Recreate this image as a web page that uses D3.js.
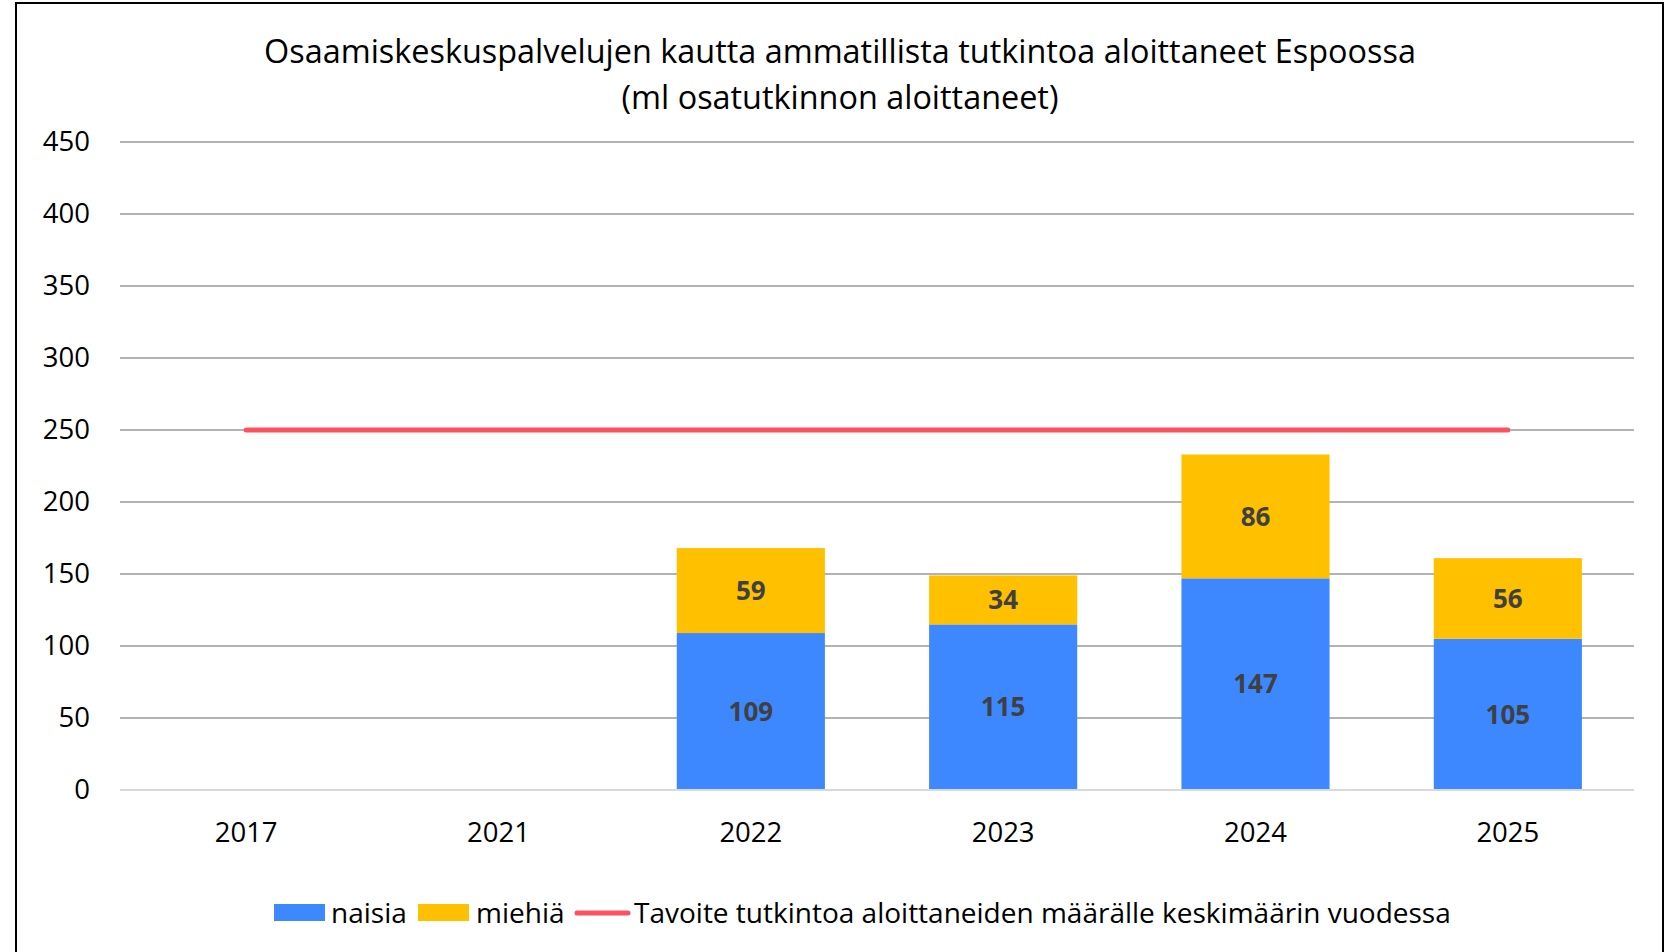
<!DOCTYPE html>
<html>
<head>
<meta charset="utf-8">
<script src="https://cdn.jsdelivr.net/npm/d3@7"></script>
<style>
  body { margin: 0; background: #fff; }
  svg text { font-family: "Open Sans", Lato, sans-serif; }
</style>
</head>
<body>
<div id="chart"></div>
<script>
var years = ['2017', '2021', '2022', '2023', '2024', '2025'];
var naisia = [null, null, 109, 115, 147, 105];
var miehia = [null, null, 59, 34, 86, 56];
var tavoite = [250, 250, 250, 250, 250, 250];
var yTicks = [0, 50, 100, 150, 200, 250, 300, 350, 400, 450];

var width = 1668, height = 952;
var margin = { top: 142, right: 34, bottom: 162, left: 120 };

var svg = d3.select('#chart')
    .append('svg')
    .attr('width', width)
    .attr('height', height);

// outer frame
svg.append('rect')
    .attr('x', 16).attr('y', 3)
    .attr('width', 1647).attr('height', 960)
    .attr('fill', 'none')
    .attr('stroke', '#000')
    .attr('stroke-width', 2);

var x = d3.scaleBand()
    .domain(years)
    .range([margin.left, width - margin.right])
    .paddingInner(0.413)
    .paddingOuter(0.2065);

var y = d3.scaleLinear()
    .domain([0, 450])
    .range([height - margin.bottom, margin.top]);

// gridlines
svg.append('g')
    .selectAll('line')
    .data(yTicks.filter(function(d) { return d > 0; }))
    .enter()
    .append('line')
    .attr('x1', margin.left)
    .attr('x2', width - margin.right)
    .attr('y1', function(d) { return y(d); })
    .attr('y2', function(d) { return y(d); })
    .attr('stroke', '#b3b3b3')
    .attr('stroke-width', 2);

// y axis labels
var yAxis = svg.append('g')
    .attr('transform', 'translate(' + (margin.left - 30) + ',0)')
    .call(d3.axisLeft(y).tickValues(yTicks).tickSize(0).tickPadding(0));
yAxis.select('.domain').remove();
yAxis.selectAll('text')
    .attr('font-family', '"Open Sans", sans-serif')
    .attr('font-size', 27.5)
    .attr('fill', '#000');

// stacked bars
var rows = years.map(function(yr, i) {
    return { year: yr, naisia: naisia[i] || 0, miehia: miehia[i] || 0 };
});
var stack = d3.stack().keys(['naisia', 'miehia'])(rows);
var colors = { naisia: '#3d88ff', miehia: '#ffc000' };

var layers = svg.selectAll('.layer')
    .data(stack)
    .enter()
    .append('g')
    .attr('class', 'layer')
    .attr('fill', function(d) { return colors[d.key]; });

layers.selectAll('rect')
    .data(function(d) { return d.filter(function(s) { return s[1] > s[0]; }); })
    .enter()
    .append('rect')
    .attr('x', function(d) { return x(d.data.year); })
    .attr('width', x.bandwidth())
    .attr('y', function(d) { return y(d[1]); })
    .attr('height', function(d) { return y(d[0]) - y(d[1]); });

layers.selectAll('text')
    .data(function(d) { return d.filter(function(s) { return s[1] > s[0]; }); })
    .enter()
    .append('text')
    .attr('x', function(d) { return x(d.data.year) + x.bandwidth() / 2; })
    .attr('y', function(d) { return (y(d[0]) + y(d[1])) / 2; })
    .attr('dy', '0.35em')
    .attr('text-anchor', 'middle')
    .attr('font-size', 26)
    .attr('font-weight', 'bold')
    .attr('fill', '#404040')
    .text(function(d) { return d[1] - d[0]; });

// zero line
svg.append('line')
    .attr('x1', margin.left)
    .attr('x2', width - margin.right)
    .attr('y1', y(0))
    .attr('y2', y(0))
    .attr('stroke', '#d9d9d9')
    .attr('stroke-width', 2);

// target line
var line = d3.line()
    .x(function(d, i) { return x(years[i]) + x.bandwidth() / 2; })
    .y(function(d) { return y(d); });
svg.append('path')
    .datum(tavoite)
    .attr('d', line)
    .attr('fill', 'none')
    .attr('stroke', '#ff5060')
    .attr('stroke-width', 5)
    .attr('stroke-linecap', 'round');

// x labels
svg.append('g')
    .selectAll('text')
    .data(years)
    .enter()
    .append('text')
    .attr('x', function(d) { return x(d) + x.bandwidth() / 2; })
    .attr('y', 832)
    .attr('dy', '0.35em')
    .attr('text-anchor', 'middle')
    .attr('font-size', 27.5)
    .text(function(d) { return d; });

// title
var title = svg.append('text')
    .attr('x', 840)
    .attr('text-anchor', 'middle')
    .attr('font-size', 32.4);
title.append('tspan').attr('x', 840).attr('y', 63)
    .text('Osaamiskeskuspalvelujen kautta ammatillista tutkintoa aloittaneet Espoossa');
title.append('tspan').attr('x', 840).attr('y', 109)
    .text('(ml osatutkinnon aloittaneet)');

// legend
var legend = svg.append('g').attr('font-size', 28);
legend.append('rect').attr('x', 274).attr('y', 904).attr('width', 51).attr('height', 17).attr('fill', colors.naisia);
legend.append('text').attr('x', 331).attr('y', 913).attr('dy', '0.35em').text('naisia');
legend.append('rect').attr('x', 418).attr('y', 904).attr('width', 51).attr('height', 17).attr('fill', colors.miehia);
legend.append('text').attr('x', 476).attr('y', 913).attr('dy', '0.35em').text('miehiä');
legend.append('line').attr('x1', 577).attr('x2', 628).attr('y1', 913).attr('y2', 913)
    .attr('stroke', '#ff5060').attr('stroke-width', 5).attr('stroke-linecap', 'round');
legend.append('text').attr('x', 634).attr('y', 913).attr('dy', '0.35em')
    .text('Tavoite tutkintoa aloittaneiden määrälle keskimäärin vuodessa');
</script>
</body>
</html>
